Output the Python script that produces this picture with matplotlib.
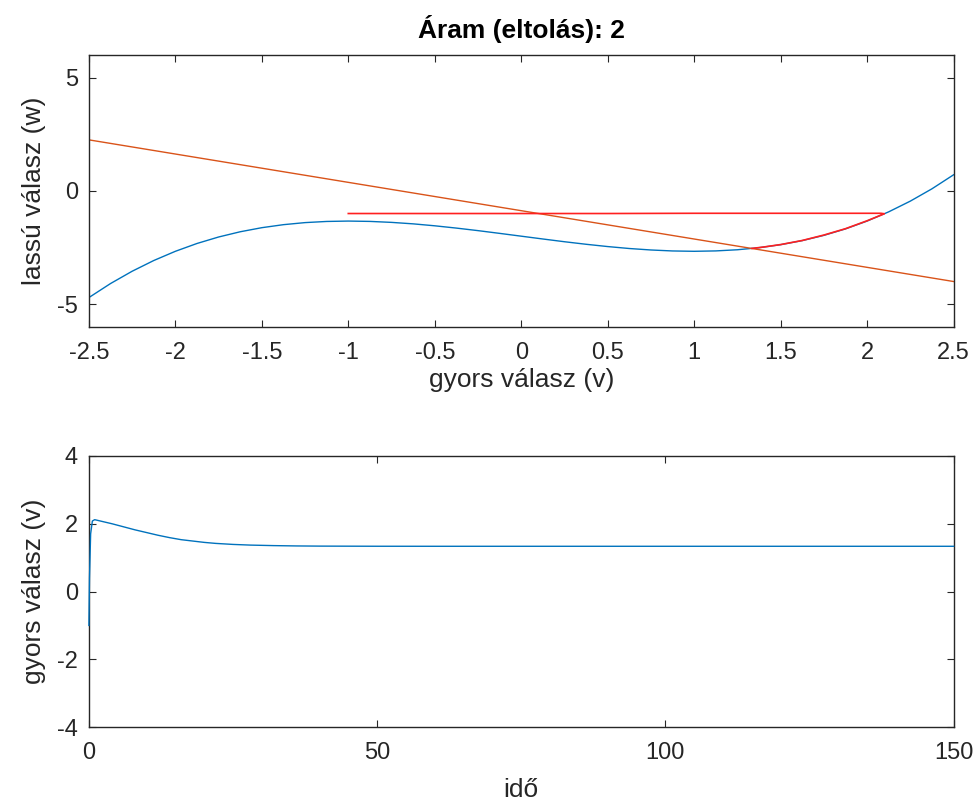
import matplotlib
matplotlib.use("Agg")
import matplotlib.pyplot as plt

# nullclines
v_grid = [-2.5, -2.375, -2.25, -2.125, -2.0, -1.875, -1.75, -1.625, -1.5, -1.375,
          -1.25, -1.125, -1.0, -0.875, -0.75, -0.625, -0.5, -0.375, -0.25, -0.125,
          0.0, 0.125, 0.25, 0.375, 0.5, 0.625, 0.75, 0.875, 1.0, 1.125,
          1.25, 1.375, 1.5, 1.625, 1.75, 1.875, 2.0, 2.125, 2.25, 2.375, 2.5]
w_cubic = [-4.708, -4.090, -3.547, -3.074, -2.667, -2.322, -2.036, -1.805, -1.625, -1.492,
           -1.401, -1.350, -1.333, -1.348, -1.391, -1.456, -1.542, -1.643, -1.755, -1.876,
           -2.000, -2.124, -2.245, -2.357, -2.458, -2.544, -2.609, -2.652, -2.667, -2.650,
           -2.599, -2.508, -2.375, -2.195, -1.964, -1.678, -1.333, -0.926, -0.453, 0.090, 0.708]
v_lin = [-2.5, 2.5]
w_lin = [2.25, -4.0]

# trajectory in the phase plane
traj_v = [-1.0, -0.5, 0.0, 0.5, 1.0, 1.5, 2.0, 2.08, 2.1, 2.0, 1.875, 1.75, 1.625, 1.5, 1.4, 1.335]
traj_w = [-1.0, -1.0, -1.0, -1.0, -0.99, -0.99, -0.99, -0.99, -1.01, -1.32, -1.67, -1.95, -2.19, -2.37, -2.48, -2.54]

# fast variable over time
t = [0, 0.1, 0.3, 0.6, 1, 2, 4, 6, 8, 10, 12, 14, 16, 18, 20, 22, 25, 28, 32, 36, 40, 50, 60, 80, 100, 150]
v_t = [-1.0, 0.4, 1.7, 2.08, 2.12, 2.08, 2.0, 1.91, 1.82, 1.74, 1.66, 1.59, 1.53, 1.49, 1.45, 1.42,
       1.39, 1.37, 1.355, 1.345, 1.34, 1.336, 1.335, 1.335, 1.335, 1.335]

plt.rcParams['font.family'] = ['Liberation Sans', 'DejaVu Sans']
plt.rcParams['axes.unicode_minus'] = False
txt = '#262626'

fig = plt.figure(figsize=(9.77, 8.07), dpi=100)
ax1 = fig.add_axes([0.091, 0.595, 0.885, 0.337])
ax2 = fig.add_axes([0.091, 0.099, 0.885, 0.336])

ax1.plot(v_grid, w_cubic, color='#0072BD', lw=1.0)
ax1.plot(v_lin, w_lin, color='#D95319', lw=1.0)
ax1.plot(traj_v, traj_w, color='#FF2020', lw=1.2)
ax1.set_xlim(-2.5, 2.5)
ax1.set_ylim(-6, 6)
ax1.set_xticks([-2.5, -2, -1.5, -1, -0.5, 0, 0.5, 1, 1.5, 2, 2.5])
ax1.set_xticklabels(['-2.5', '-2', '-1.5', '-1', '-0.5', '0', '0.5', '1', '1.5', '2', '2.5'])
ax1.set_yticks([-5, 0, 5])
ax1.set_xlabel('gyors válasz (v)', fontsize=19, color=txt, labelpad=3)
ax1.set_ylabel('lassú válasz (w)', fontsize=19, color=txt, labelpad=8)
ax1.set_title('Áram (eltolás): 2', fontsize=19, fontweight='bold', color='black', pad=12)

ax2.plot(t, v_t, color='#0072BD', lw=1.0, zorder=3, clip_on=False)
ax2.set_xlim(0, 150)
ax2.set_ylim(-4, 4)
ax2.set_xticks([0, 50, 100, 150])
ax2.set_yticks([-4, -2, 0, 2, 4])
ax2.set_xlabel('idő', fontsize=19, color=txt, labelpad=10)
ax2.set_ylabel('gyors válasz (v)', fontsize=19, color=txt, labelpad=8)

for ax in (ax1, ax2):
    ax.tick_params(direction='in', top=True, right=True, length=5, width=0.8,
                   labelsize=17, colors=txt)
    ax.tick_params(axis='x', pad=11)
    ax.tick_params(axis='y', pad=8)
    for s in ax.spines.values():
        s.set_color(txt)
        s.set_linewidth(1.0)

fig.savefig('out.png', dpi=100)
